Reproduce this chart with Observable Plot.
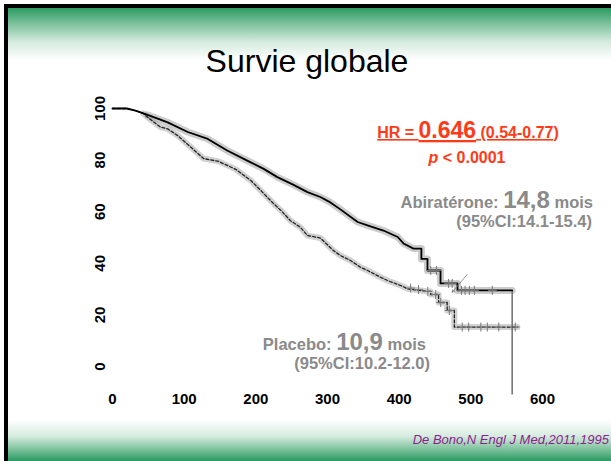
<!DOCTYPE html>
<html>
<head>
<meta charset="utf-8">
<script src="https://cdn.jsdelivr.net/npm/d3@7"></script>
<script src="https://cdn.jsdelivr.net/npm/@observablehq/plot@0.6"></script>
<style>
  html, body { margin: 0; padding: 0; background: #fff; }
  #slide { position: relative; width: 611px; height: 461px; overflow: hidden; background: #fff; font-family: "Liberation Sans", Arial, sans-serif; }
  .abs { position: absolute; }
  #bl { left: 4px; top: 4px; width: 4px; height: 457px; background: #000; }
  #bt { left: 4px; top: 4px; width: 607px; height: 4px; background: #000; }
  #gt { left: 8px; top: 8px; width: 603px; height: 52px; background: linear-gradient(to bottom, #2b9a62 0%, #7cc19c 30%, #d4ebde 65%, #ffffff 100%); }
  #gb { left: 8px; top: 420px; width: 603px; height: 41px; background: linear-gradient(to bottom, #ffffff 0%, #d4ebde 40%, #7cc19c 72%, #2b9a62 100%); }
  #chart { left: 0; top: 0; }
  #chart svg { overflow: visible; }
  #ann { left: 0; top: 0; }
</style>
</head>
<body>
<div id="slide">
  <div class="abs" id="gt"></div>
  <div class="abs" id="gb"></div>
  <div class="abs" id="bl"></div>
  <div class="abs" id="bt"></div>
  <div class="abs" id="chart"></div>
  <svg class="abs" id="ann" width="611" height="461" font-family="Liberation Sans, Arial, sans-serif">
    <text x="307" y="72" text-anchor="middle" font-size="32" fill="#000">Survie globale</text>
    <text x="468" y="138" text-anchor="middle" font-weight="bold" fill="#ff3a18" text-decoration="underline"><tspan font-size="16">HR = </tspan><tspan font-size="23">0.646</tspan><tspan font-size="16"> (0.54-0.77)</tspan></text>
    <text x="467" y="163" text-anchor="middle" font-weight="bold" font-size="16" fill="#ff3a18"><tspan font-style="italic">p</tspan> &lt; 0.0001</text>
    <text x="593" y="208" text-anchor="end" font-weight="bold" fill="#8a8a8a"><tspan font-size="16.5">Abiratérone: </tspan><tspan font-size="24">14,8</tspan><tspan font-size="16.5"> mois</tspan></text>
    <text x="592" y="227" text-anchor="end" font-weight="bold" font-size="16.5" fill="#8a8a8a">(95%CI:14.1-15.4)</text>
    <text x="426" y="350" text-anchor="end" font-weight="bold" fill="#8a8a8a"><tspan font-size="16.5">Placebo: </tspan><tspan font-size="24">10,9</tspan><tspan font-size="16.5"> mois</tspan></text>
    <text x="430" y="369" text-anchor="end" font-weight="bold" font-size="16.5" fill="#8a8a8a">(95%CI:10.2-12.0)</text>
    <text x="609" y="444" text-anchor="end" font-style="italic" font-size="13" fill="#8e1c8e">De Bono,N Engl J Med,2011,1995</text>
  </svg>
</div>
<script>
// ---- Data ----
const xTicks = [0, 100, 200, 300, 400, 500, 600];
const yTicks = [0, 20, 40, 60, 80, 100];

// Abiratérone (solid)
const abiDays = [0, 20, 32, 49, 77, 105, 133, 160, 188, 211, 230, 252, 272, 290, 304, 318, 342, 360, 378, 398, 406, 420, 431, 431, 439.5, 439.5, 457.7, 457.7, 481.4, 481.4, 557.7];
const abiSurv = [100, 100, 99.2, 97.5, 94.6, 90.9, 88.2, 83.7, 79.8, 76.6, 73.4, 70.5, 67.6, 65.7, 63.6, 60.9, 56.0, 54.3, 52.7, 50.2, 47.7, 45.7, 45.7, 41.7, 41.7, 37.2, 37.2, 32.2, 32.2, 29.5, 29.5];

// Placebo (dashed)
const plaDays = [0, 20, 32, 43, 49, 67, 77, 91, 109, 127, 148, 172, 193, 207, 216, 225, 235, 248, 262, 272, 290, 308, 318, 332, 346, 356, 374, 384, 402, 412, 440, 444, 444, 455, 455, 467, 467, 477, 477, 565];
const plaSurv = [100, 100, 99.2, 98.1, 96.6, 92.8, 92.1, 89.5, 85.1, 80.6, 79.5, 76.4, 72.1, 68.2, 65.6, 63.1, 60.5, 56.6, 54, 50.8, 49.8, 45, 43, 41.1, 38.5, 37.2, 34.6, 33.3, 31.4, 30.1, 29.1, 29.1, 27.9, 27.9, 24.8, 24.8, 21.7, 21.7, 15.3, 15.3];

// Censored observations (+)
const abiCensorDays = [444, 452, 469, 474, 487, 492, 498, 505, 530];
const abiCensorSurv = [37.2, 37.2, 32.2, 32.2, 29.5, 29.5, 29.5, 29.5, 29.5];
const plaCensorDays = [416, 427, 440, 451, 458, 470, 488, 497, 514, 523, 539, 562];
const plaCensorSurv = [30.4, 29.8, 29.1, 27.9, 24.8, 21.7, 15.3, 15.3, 15.3, 15.3, 15.3, 15.3];

// final vertical drop line and small arrow
const dropDay = [557.7];
const dropFrom = [29.5];
const dropTo = [-11];
const arrowFrom = {day: 495, surv: 35.7};
const arrowTo = {day: 474, surv: 28.8};

const abi = abiDays.map((d, i) => ({day: d, surv: abiSurv[i]}));
const pla = plaDays.map((d, i) => ({day: d, surv: plaSurv[i]}));
const abiC = abiCensorDays.map((d, i) => ({day: d, surv: abiCensorSurv[i]}));
const plaC = plaCensorDays.map((d, i) => ({day: d, surv: plaCensorSurv[i]}));
const drop = dropDay.map((d, i) => ({day: d, y1: dropFrom[i], y2: dropTo[i]}));
// dense censoring halo is heaviest beyond the first weeks
const abiHalo = abi.filter(d => d.day >= 40);
const plaHalo = pla.filter(d => d.day >= 40);

const chart = Plot.plot({
  width: 611,
  height: 461,
  marginLeft: 112,
  marginRight: 69,
  marginTop: 108,
  marginBottom: 95,
  style: {background: "transparent", fontFamily: "Liberation Sans, Arial, sans-serif", overflow: "visible"},
  x: {domain: [0, 600]},
  y: {domain: [0, 100]},
  marks: [
    Plot.line(plaHalo, {x: "day", y: "surv", stroke: "#999", strokeWidth: 6, strokeOpacity: 0.45}),
    Plot.line(abiHalo, {x: "day", y: "surv", stroke: "#999", strokeWidth: 7, strokeOpacity: 0.5}),
    Plot.ruleX(drop, {x: "day", y1: "y1", y2: "y2", stroke: "#777", strokeWidth: 1.6}),
    Plot.line(pla, {x: "day", y: "surv", stroke: "#222", strokeWidth: 1.3, strokeDasharray: "3,2"}),
    Plot.line(abi, {x: "day", y: "surv", stroke: "#000", strokeWidth: 1.8}),
    Plot.dot(abiC, {x: "day", y: "surv", symbol: "plus", r: 3, stroke: "#777", strokeWidth: 1}),
    Plot.dot(plaC, {x: "day", y: "surv", symbol: "plus", r: 3, stroke: "#777", strokeWidth: 1}),
    Plot.arrow([{x1: arrowFrom.day, y1: arrowFrom.surv, x2: arrowTo.day, y2: arrowTo.surv}], {x1: "x1", y1: "y1", x2: "x2", y2: "y2", stroke: "#777", strokeWidth: 0.8, headLength: 5}),
    Plot.axisX({ticks: xTicks, tickSize: 0, tickPadding: 27, fontSize: 15, fontWeight: "bold", fill: "#000", label: null}),
    Plot.axisY({ticks: yTicks, tickSize: 0, tickPadding: 12, rotate: -90, textAnchor: "middle", fontSize: 15, fontWeight: "bold", fill: "#000", label: null})
  ]
});
document.getElementById("chart").appendChild(chart);
</script>
</body>
</html>
